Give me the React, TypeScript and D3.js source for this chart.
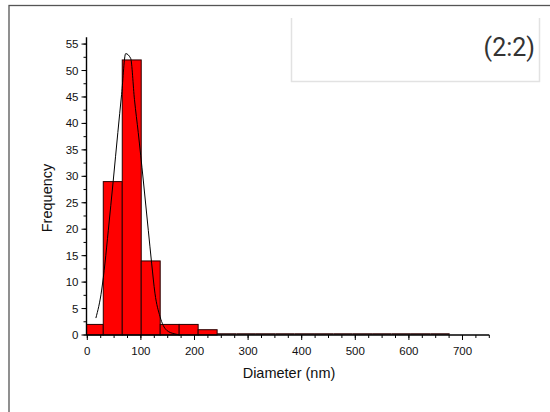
import React from "react";
import * as d3 from "d3";

const binEdges = [-5.6, 29.8, 65.2, 100.6, 136.0, 171.4, 206.8, 242.2, 278.4, 314.5, 350.7, 386.8, 423.0, 459.1, 495.3, 531.4, 567.6, 603.7, 639.9, 676.0];
const counts = [2, 29, 52, 14, 2, 2, 1, 0, 0, 0, 0, 0, 0, 0, 0, 0, 0, 0, 0];

const fitX = [16, 26.8, 33, 39.2, 48.5, 57, 64, 71.6, 80.9, 88, 95, 104.4, 113.8, 120, 126.2, 135.6, 148, 163.5, 172];
const fitY = [3.2, 8.5, 13.6, 19.8, 29.3, 38.3, 45.5, 53.2, 52.3, 44.5, 38.3, 29.3, 19.8, 13.6, 7.9, 3.5, 0.9, 0.2, 0.05];

const xTicks = [0, 100, 200, 300, 400, 500, 600, 700];
const xMinor = d3.range(0, 751, 25);
const yTicks = [0, 5, 10, 15, 20, 25, 30, 35, 40, 45, 50, 55];
const yMinor = d3.range(0, 56.3, 2.5);

const xLabel = "Diameter (nm)";
const yLabel = "Frequency";
const boxLabel = "(2:2)";

export default function App() {
  const x = d3.scaleLinear().domain([-1.5, 750]).range([86.5, 489.3]);
  const y = d3.scaleLinear().domain([0, 56.3]).range([335, 37.2]);
  const x0 = x.domain()[0];

  const bars = counts.map((c, i) => {
    const a = Math.max(binEdges[i], x0);
    const b = binEdges[i + 1];
    return { x: x(a), w: x(b) - x(a), y: y(c), h: y(0) - y(c), zero: c === 0 };
  });

  const fitPts: [number, number][] = fitX.map((v, i) => [v, fitY[i]]);
  const line = d3
    .line<[number, number]>()
    .x((d) => x(d[0]))
    .y((d) => y(d[1]))
    .curve(d3.curveMonotoneX);

  const font = "'Liberation Sans', Arial, sans-serif";

  return (
    <div style={{ position: "fixed", left: 0, top: 0, width: 550, height: 412, background: "#fff" }}>
      <svg width={550} height={412} style={{ display: "block" }}>
        <rect x={0} y={0} width={550} height={412} fill="#fff" />
        {/* outer frame */}
        <rect x={9} y={5.5} width={600} height={500} fill="none" stroke="#555" strokeWidth={1.3} />
        {/* label box */}
        <path d="M291.5,18 L291.5,81.5 L539.5,81.5 L539.5,18" fill="none" stroke="#e2e2e2" strokeWidth={1.5} />
        <text x={535} y={56} textAnchor="end" fontFamily="Roboto, 'Noto Sans', sans-serif" fontWeight={400} fontSize={25} fill="#333">
          {boxLabel}
        </text>

        {/* bars */}
        {bars.map((b, i) =>
          b.zero ? (
            <line key={i} x1={b.x} x2={b.x + b.w} y1={y(0) - 1} y2={y(0) - 1} stroke="#2a0000" strokeWidth={1.5} />
          ) : (
            <rect key={i} x={b.x} y={b.y} width={b.w} height={b.h} fill="#ff0000" stroke="#2a0000" strokeWidth={1} />
          )
        )}

        {/* fit curve */}
        <path d={line(fitPts) || ""} fill="none" stroke="#000" strokeWidth={1} />

        {/* x axis */}
        <line x1={x(x0)} x2={x(750)} y1={y(0)} y2={y(0)} stroke="#000" strokeWidth={1.4} />
        {xMinor.map((t) => (
          <line key={"xm" + t} x1={x(t)} x2={x(t)} y1={y(0)} y2={y(0) + 3} stroke="#000" strokeWidth={1} />
        ))}
        {xTicks.map((t) => (
          <g key={"xt" + t}>
            <line x1={x(t)} x2={x(t)} y1={y(0)} y2={y(0) + 5} stroke="#000" strokeWidth={1} />
            <text x={x(t)} y={355} textAnchor="middle" fontFamily={font} fontSize={11.5} fill="#111">
              {t}
            </text>
          </g>
        ))}
        <text x={289} y={378.3} textAnchor="middle" fontFamily={font} fontSize={14.5} fill="#111">
          {xLabel}
        </text>

        {/* y axis */}
        <line x1={x(x0)} x2={x(x0)} y1={y(0)} y2={y(56.3)} stroke="#000" strokeWidth={1.4} />
        {yMinor.map((t) => (
          <line key={"ym" + t} x1={x(x0) - 3} x2={x(x0)} y1={y(t)} y2={y(t)} stroke="#000" strokeWidth={1} />
        ))}
        {yTicks.map((t) => (
          <g key={"yt" + t}>
            <line x1={x(x0) - 5} x2={x(x0)} y1={y(t)} y2={y(t)} stroke="#000" strokeWidth={1} />
            <text x={x(x0) - 8} y={y(t)} dy="0.35em" textAnchor="end" fontFamily={font} fontSize={11.5} fill="#111">
              {t}
            </text>
          </g>
        ))}
        <text
          transform={`translate(51.5,198) rotate(-90)`}
          textAnchor="middle"
          fontFamily={font}
          fontSize={14.5}
          fill="#111"
        >
          {yLabel}
        </text>
      </svg>
    </div>
  );
}
